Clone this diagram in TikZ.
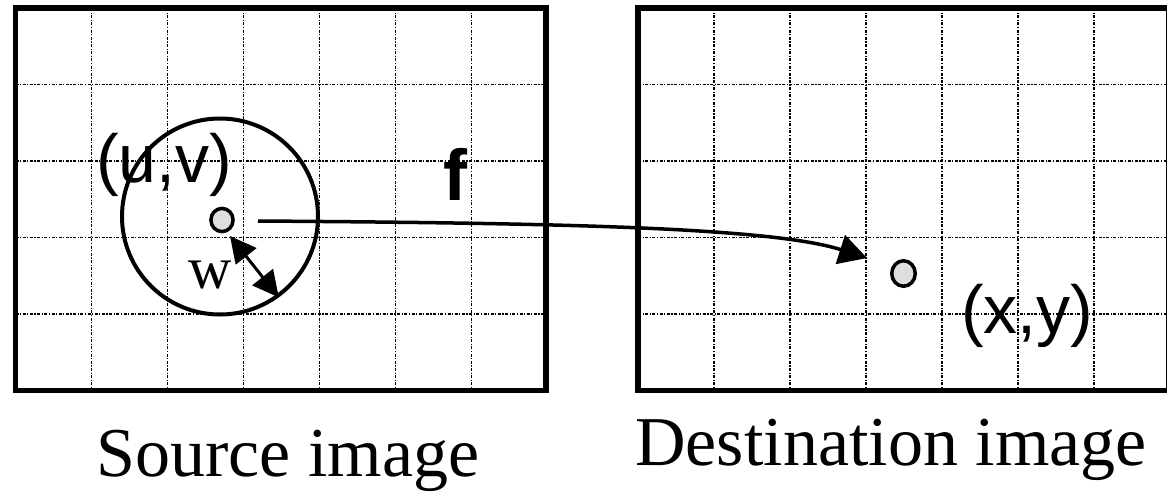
\documentclass[tikz,border=0pt]{standalone}
\usepackage{fontspec}
\setmainfont{Liberation Serif}
\newfontfamily\hv{Liberation Sans}
\usetikzlibrary{arrows.meta,shapes.geometric}
\definecolor{dotgray}{RGB}{222,222,222}
\begin{document}
\begin{tikzpicture}[x=1pt,y=-1pt,
  frame/.style={line width=5.5pt},
  gridline/.style={line width=1.2pt, dash pattern=on 3pt off 1.5pt on 1.2pt off 1.5pt},
  dot/.style={ellipse, draw, line width=3.5pt, fill=dotgray, inner sep=0pt},
  lbl/.style={inner sep=0pt, anchor=base west},
  bigserif/.style={inner sep=0pt, anchor=base, font=\fontsize{70}{84}\selectfont},
  sanslbl/.style={lbl, font=\hv\fontsize{68}{80}\selectfont},
  maparrow/.style={line width=3.5pt, -{Triangle[length=28pt,width=30pt]}},
  radarrow/.style={line width=3pt, {Triangle[length=26pt,width=26pt]}-{Triangle[length=26pt,width=26pt]}}
]
\useasboundingbox (0,0) rectangle (1167,493);
\clip (0,0) rectangle (1167,493);
% grids
\foreach \x in {91.5,167.5,243.5,319.5,395.5,471.5}
  \draw[gridline] (\x,8) -- (\x,390.5);
\foreach \y in {84.5,161,237.5,314}
  \draw[gridline] (15.5,\y) -- (546,\y);
\foreach \x in {714,790,866,942,1018,1094}
  \draw[gridline] (\x,8) -- (\x,390.5);
\foreach \y in {84.5,161,237.5,314}
  \draw[gridline] (638,\y) -- (1169,\y);
% frames
\draw[frame] (15.5,8) rectangle (546,390.5);
\draw[frame] (638,8) rectangle (1169,390.5);
% window circle
\node[circle, draw, line width=4pt, minimum size=196pt, inner sep=0pt] (win) at (220,216.5) {};
% labels
\node[sanslbl] (uv) at (96,182) {(u,v)};
\node[sanslbl] (xy) at (961,333) {(x,y)};
\node[lbl, font=\hv\bfseries\fontsize{72}{86}\selectfont] (f) at (443,200) {f};
\node[lbl, font=\fontsize{60}{72}\selectfont] (w) at (188,288) {w};
\node[bigserif] (srclabel) at (288,476) {Source image};
\node[bigserif] (dstlabel) at (891,465) {Destination image};
% dots
\node[dot, minimum width=22.2pt, minimum height=23.2pt] (src) at (222,220) {};
\node[dot, minimum width=23.5pt, minimum height=25.5pt] (dst) at (903.5,273.5) {};
% arrows
\coordinate (fa) at (258,221);
\coordinate (fb) at (867,258);
\draw[maparrow] (fa) .. controls (550,223) and (770,227) .. (fb);
\coordinate (wa) at (230,236);
\draw[radarrow] (wa) -- (win.-54);
\end{tikzpicture}
\end{document}
